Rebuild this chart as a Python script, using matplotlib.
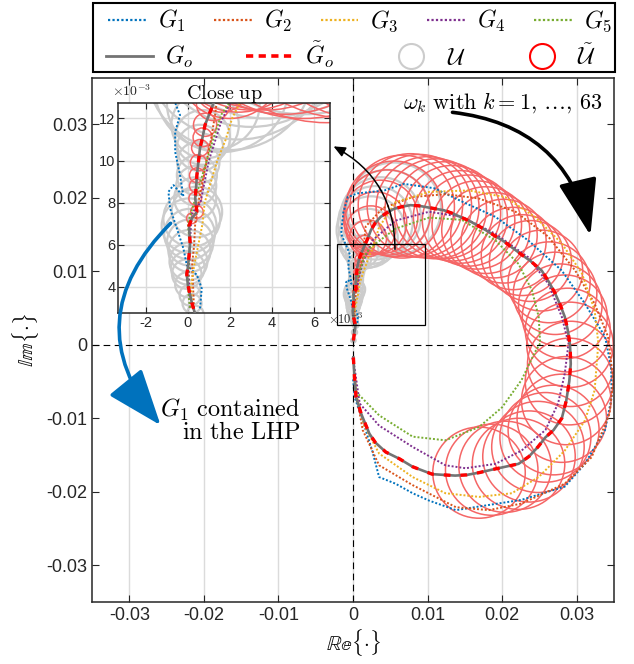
import numpy as np
import matplotlib
matplotlib.use('Agg')
import matplotlib.pyplot as plt
from matplotlib.patches import Circle, Rectangle, FancyArrowPatch
from matplotlib.lines import Line2D

plt.rcParams['mathtext.fontset'] = 'cm'
plt.rcParams['font.family'] = ['Liberation Sans', 'DejaVu Sans']
plt.rcParams['axes.unicode_minus'] = False

# all values, in units of 1e-3
# nominal model G_o, from low to high frequency
go_re = [0.05, 0.2, 0.35, 0.2, 0.11, 0.0, -0.05, 0.0, 0.03, 0.08, 0.11, 0.08, 0.06, 0.19, 0.43,
         0.35, 0.40, 0.43, 0.50, 0.58, 0.70, 0.82, 1.21, 1.6, 2.0, 2.4, 3.0, 3.7, 4.6, 5.5,
         6.6, 7.7, 8.9, 10.0, 11.1, 12.2, 13.3, 14.4, 15.5, 16.6, 17.8, 18.9, 20.2, 21.5, 22.7,
         23.8, 25.3, 26.3, 27.1, 27.8, 28.4, 28.8, 29.1, 29.2, 29.0, 28.6, 28.0, 26.9, 25.8, 24.8,
         23.6, 22.2, 20.4, 18.6, 16.9, 15.3, 13.7, 12.1, 10.6, 8.0, 6.2, 4.4, 3.0, 2.2, 1.1,
         0.4, 0.2, 0.05]
go_im = [0.6, 1.7, 2.7, 3.2, 3.6, 4.1, 4.6, 4.9, 5.2, 5.7, 6.1, 6.5, 6.9, 7.25, 7.56,
         8.2, 8.8, 9.3, 9.9, 10.6, 11.1, 11.7, 12.7, 13.6, 14.5, 15.6, 16.6, 17.4, 18.0, 18.5,
         18.8, 19.0, 18.9, 18.7, 18.5, 18.3, 17.9, 17.4, 16.9, 16.3, 15.6, 14.9, 14.1, 13.1, 12.2,
         11.4, 10.1, 8.5, 7.0, 5.4, 3.8, 2.0, 0.0, -2.6, -5.0, -7.6, -10.0, -11.6, -12.6, -13.9,
         -15.2, -16.2, -16.6, -17.0, -17.4, -17.7, -17.8, -17.7, -17.6, -16.6, -15.5, -14.6, -13.3, -12.1, -9.4,
         -7.1, -4.4, -1.7]
# radius of the uncertainty disc U (grey) and U~ (red) at each point, 0 = not drawn
r_u = [0.3, 0.35, 0.4, 0.45, 0.5, 0.6, 0.7, 0.8, 0.9, 1.0, 1.1, 1.2, 1.3, 1.35, 1.2,
       1.0, 0.95, 0.95, 1.0, 1.1, 1.3, 1.6, 2.2, 3.2, 4.0, 4.6, 5.0, 5.4, 5.8, 6.3] + [0] * 48
r_ut = [0] * 13 + [0.25, 0.3, 0.3, 0.32, 0.35, 0.38, 0.4, 0.45, 0.55, 0.8, 1.3, 2.5, 3.3, 4.2, 5.0,
                   5.8, 6.5, 7.0, 7.0, 7.0, 6.9, 6.8, 6.6, 6.5, 6.3, 6.2, 6.0, 5.9, 5.8,
                   5.7, 5.6, 5.5, 5.5, 5.5, 5.5, 5.6, 5.6, 5.7, 5.7, 5.8, 5.8, 5.9, 6.0, 6.0,
                   6.1, 6.1, 6.2, 6.2, 6.2, 6.2, 6.2, 6.2] + [0] * 12

g1_re = [0.58, 0.66, 0.43, -0.05, -0.21, -0.52, -0.84, -0.92, -0.68, -0.21, -0.37, -0.60, -0.60, -0.37, -0.7,
         -1.6, -1.3, -0.7, 0.6, 4.2, 6.8, 10.9, 14.6, 19.1, 23.5, 28.0, 31.1, 33.8, 34.6, 34.7,
         33.8, 31.1, 28.4, 22.6, 18.2, 13.8, 10.2, 8.0, 5.7, 3.5, 2.6, 1.3, 0.2, 0.0]
g1_im = [2.97, 3.92, 4.56, 5.03, 5.82, 6.77, 7.72, 8.51, 8.83, 8.3, 9.31, 10.41, 11.36, 12.16, 13.0,
         15.1, 18.0, 20.1, 20.6, 21.0, 21.9, 21.3, 19.5, 17.4, 14.2, 10.1, 5.6, 1.1, -3.0, -7.1,
         -11.6, -16.2, -19.3, -21.1, -21.8, -22.5, -21.2, -20.2, -18.9, -18.0, -14.5, -10.3, -7.1, -4.5]
g2_re = [0.3, 0.25, 0.2, 0.3, 0.35, 0.5, 0.7, 0.9, 1.1, 1.3, 1.5, 1.7, 4.0, 8.0, 12.4, 16.9,
         21.8, 26.2, 29.8, 32.4, 34.2, 34.9, 34.4, 32.0, 28.4, 22.6, 18.2, 13.8, 8.0, 3.5, 1.3, 0.6, 0.2]
g2_im = [2.8, 4.0, 5.0, 6.0, 7.0, 8.0, 9.0, 10.0, 11.0, 12.2, 14.0, 16.1, 18.6, 20.1, 20.5, 19.9,
         18.1, 14.7, 10.1, 5.6, 1.1, -4.8, -9.4, -15.3, -18.9, -21.6, -22.5, -22.1, -19.1, -16.4, -11.6, -7.6, -4.0]
g3_re = [0.2, 0.15, 0.3, 0.5, 0.7, 0.8, 1.1, 1.4, 1.8, 2.1, 2.6, 3.5, 5.7, 10.2, 15.5, 20.4,
         24.4, 28.0, 30.7, 32.4, 32.9, 32.4, 31.1, 28.4, 24.9, 21.3, 16.9, 12.4, 8.0, 3.5, 1.5, 0.5, 0.2]
g3_im = [3.0, 4.0, 5.0, 6.0, 7.0, 8.0, 9.0, 10.0, 11.0, 12.0, 13.0, 16.0, 19.4, 20.8, 21.0, 20.1,
         17.4, 13.8, 9.7, 4.7, 0.2, -6.2, -10.3, -14.4, -18.0, -20.2, -20.7, -20.2, -18.0, -14.8, -11.0, -7.0, -4.0]
g4_re = [0.1, 0.05, 0.1, 0.15, 0.2, 0.6, 1.0, 1.6, 2.0, 2.6, 5.7, 10.2, 14.6, 19.1, 23.5,
         26.2, 28.0, 28.9, 28.4, 27.5, 25.8, 22.6, 19.1, 15.1, 12.4, 8.0, 3.5, 0.9, 0.2, -0.1]
g4_im = [3.0, 4.5, 6.0, 7.0, 7.5, 8.0, 10.0, 11.9, 12.7, 14.2, 16.9, 18.1, 17.4, 15.1, 11.9,
         8.3, 3.8, 0.2, -3.9, -8.0, -11.6, -14.4, -16.2, -16.8, -16.4, -13.9, -11.0, -8.0, -3.1, -1.7]
g5_re = [0.1, 0.0, 0.05, 0.1, 0.0, 0.3, 0.6, 0.9, 1.2, 1.6, 2.3, 5.7, 10.2, 14.6, 19.1,
         22.2, 24.0, 24.9, 25.1, 24.4, 22.6, 20.0, 16.9, 12.4, 8.0, 3.5, 0.5, 0.2]
g5_im = [3.0, 4.0, 5.0, 6.0, 7.0, 8.0, 9.0, 10.0, 11.0, 12.2, 13.2, 15.8, 17.3, 17.0, 14.2,
         11.0, 7.4, 3.8, 0.2, -1.0, -4.8, -8.5, -11.2, -13.0, -12.5, -9.6, -6.5, -5.7]

main_ticks = [-0.03, -0.02, -0.01, 0, 0.01, 0.02, 0.03]
main_ticklabels = ['-0.03', '-0.02', '-0.01', '0', '0.01', '0.02', '0.03']
ins_xticks = [-2, 0, 2, 4, 6]
ins_yticks = [4, 6, 8, 10, 12]

colors = ['#0072BD', '#D95319', '#EDB120', '#7E2F8E', '#77AC30']
grey_c = (0.8, 0.8, 0.8)
red_c = (0.96, 0.4, 0.4)
sc = 1e-3

g_re = [g1_re, g2_re, g3_re, g4_re, g5_re]
g_im = [g1_im, g2_im, g3_im, g4_im, g5_im]


def draw_all(ax):
    for x, y, r in zip(go_re, go_im, r_u):
        if r > 0:
            ax.add_patch(Circle((x * sc, y * sc), r * sc, fill=False, ec=grey_c, lw=1.6, zorder=1))
    for x, y, r in zip(go_re, go_im, r_ut):
        if r > 0:
            ax.add_patch(Circle((x * sc, y * sc), r * sc, fill=False, ec=red_c, lw=1.1, zorder=1.2))
    for xs, ys, c in zip(g_re, g_im, colors):
        ax.plot(np.array(xs) * sc, np.array(ys) * sc, color=c, ls=(0, (1, 1)), lw=1.4, zorder=2)
    ax.plot(np.array(go_re) * sc, np.array(go_im) * sc, color=(0.45, 0.45, 0.45), lw=1.9, zorder=3)
    ax.plot(np.array(go_re) * sc, np.array(go_im) * sc, color='red', ls=(0, (2, 3)), lw=2.4, zorder=3.1)


fig = plt.figure(figsize=(6.34, 6.64), dpi=100)
ax = fig.add_axes([92 / 634, 62 / 664, 522 / 634, 524 / 664])
draw_all(ax)
ax.axhline(0, color='k', ls=(0, (6, 4)), lw=0.8, zorder=2.5)
ax.axvline(0, color='k', ls=(0, (6, 4)), lw=0.8, zorder=2.5)
ax.set_xlim(-0.035, 0.035)
ax.set_ylim(-0.035, 0.0363)
ax.set_xticks(main_ticks)
ax.set_xticklabels(main_ticklabels)
ax.set_yticks(main_ticks)
ax.set_yticklabels(main_ticklabels)
ax.xaxis.grid(True, color=(0.86, 0.86, 0.86), lw=1.0)
ax.set_axisbelow(True)
ax.tick_params(direction='in', top=True, right=True, length=5, labelsize=13, colors='#262626')
for s in ax.spines.values():
    s.set_linewidth(1.1)
    s.set_color('#262626')
ax.set_xlabel(r'$\mathbb{Re}\{\cdot\}$', fontsize=15, labelpad=2)
ax.set_ylabel(r'$\mathbb{Im}\{\cdot\}$', fontsize=15, labelpad=4)

# zoom region
ax.add_patch(Rectangle((-0.0022, 0.00265), 0.0119, 0.011, fill=False, ec='k', lw=0.9, zorder=5))

ax.text(0.0201, 0.0329, r'$\omega_k\ \mathrm{with}\ k=1,\,\ldots,\,63$', fontsize=16,
        ha='center', va='center')
ax.text(-0.00704, -0.01027, r'$G_1\ \mathrm{contained}$' + '\n' + r'$\mathrm{in\ the\ LHP}$',
        fontsize=17.5, ha='right', va='center', multialignment='right', linespacing=0.95)

# inset
ins = fig.add_axes([118.3 / 634, 351 / 664, 211.7 / 634, 210.3 / 664])
draw_all(ins)
ins.set_xlim(-3.3e-3, 6.75e-3)
ins.set_ylim(2.75e-3, 12.75e-3)
ins.set_xticks(np.array(ins_xticks) * sc)
ins.set_xticklabels([str(v) for v in ins_xticks])
ins.set_yticks(np.array(ins_yticks) * sc)
ins.set_yticklabels([str(v) for v in ins_yticks])
ins.grid(True, color=(0.86, 0.86, 0.86), lw=1.0)
ins.set_axisbelow(True)
ins.tick_params(direction='in', top=True, right=True, length=4, labelsize=10.5, colors='#262626', pad=2)
for s in ins.spines.values():
    s.set_linewidth(1.1)
    s.set_color('#262626')
ins.set_title(r'$\mathrm{Close\ up}$', fontsize=14.5, pad=3)
ins.text(-0.03, 1.055, r'$\mathsf{\times10^{-3}}$', transform=ins.transAxes, fontsize=10,
         ha='left', va='center', color='#262626')
ins.text(0.99, -0.03, r'$\mathsf{\times10^{-3}}$', transform=ins.transAxes, fontsize=9,
         ha='left', va='center', color='#262626')

# arrows
fig.add_artist(FancyArrowPatch((0.00563, 0.0130), (-0.00261, 0.0270), transform=ax.transData,
                               connectionstyle='arc3,rad=0.3', shrinkA=0, shrinkB=0,
                               arrowstyle='-|>,head_length=0.5,head_width=0.22',
                               mutation_scale=14, lw=1.1, color='k', zorder=6))
fig.add_artist(FancyArrowPatch((0.01334, 0.03163), (0.03184, 0.0149), transform=ax.transData,
                               connectionstyle='arc3,rad=-0.35', shrinkA=0, shrinkB=0,
                               arrowstyle='-|>,head_length=1.6,head_width=0.55',
                               mutation_scale=22, lw=2.6, color='k', zorder=6))
fig.add_artist(FancyArrowPatch((-0.02446, 0.01653), (-0.0258, -0.01095), transform=ax.transData,
                               connectionstyle='arc3,rad=0.45', shrinkA=0, shrinkB=0,
                               arrowstyle='-|>,head_length=1.6,head_width=0.6',
                               mutation_scale=22, lw=2.6, color='#0072BD', zorder=6))

# legend
fig.add_artist(Rectangle((93 / 634, 1 - 72 / 664), 522 / 634, 69 / 664, transform=fig.transFigure,
                         fill=False, ec='k', lw=1.5))
h1 = [Line2D([], [], color=c, ls=(0, (1, 1)), lw=1.6) for c in colors]
l1 = [r'$G_1$', r'$G_2$', r'$G_3$', r'$G_4$', r'$G_5$']
fig.legend(h1, l1, loc='center', bbox_to_anchor=(108 / 634, 1 - 36 / 664, 504 / 634, 30 / 664),
           ncol=5, mode='expand', frameon=False, fontsize=17, handlelength=1.6,
           handletextpad=0.5, borderaxespad=0, borderpad=0)
h2 = [Line2D([], [], color=(0.45, 0.45, 0.45), lw=2.0),
      Line2D([], [], color='red', ls=(0, (2, 1.5)), lw=2.6),
      Line2D([], [], ls='none', marker='o', ms=18, mfc='none', mec=grey_c, mew=1.5),
      Line2D([], [], ls='none', marker='o', ms=18, mfc='none', mec='red', mew=1.5)]
l2 = [r'$G_o$', r'$\tilde{G}_o$', r'$\mathcal{U}$', r'$\tilde{\mathcal{U}}$']
fig.legend(h2, l2, loc='center', bbox_to_anchor=(106 / 634, 1 - 70 / 664, 490 / 634, 30 / 664),
           ncol=4, mode='expand', frameon=False, fontsize=17, handlelength=2.0,
           handletextpad=0.5, borderaxespad=0, borderpad=0)

fig.savefig('out.png', dpi=100)
